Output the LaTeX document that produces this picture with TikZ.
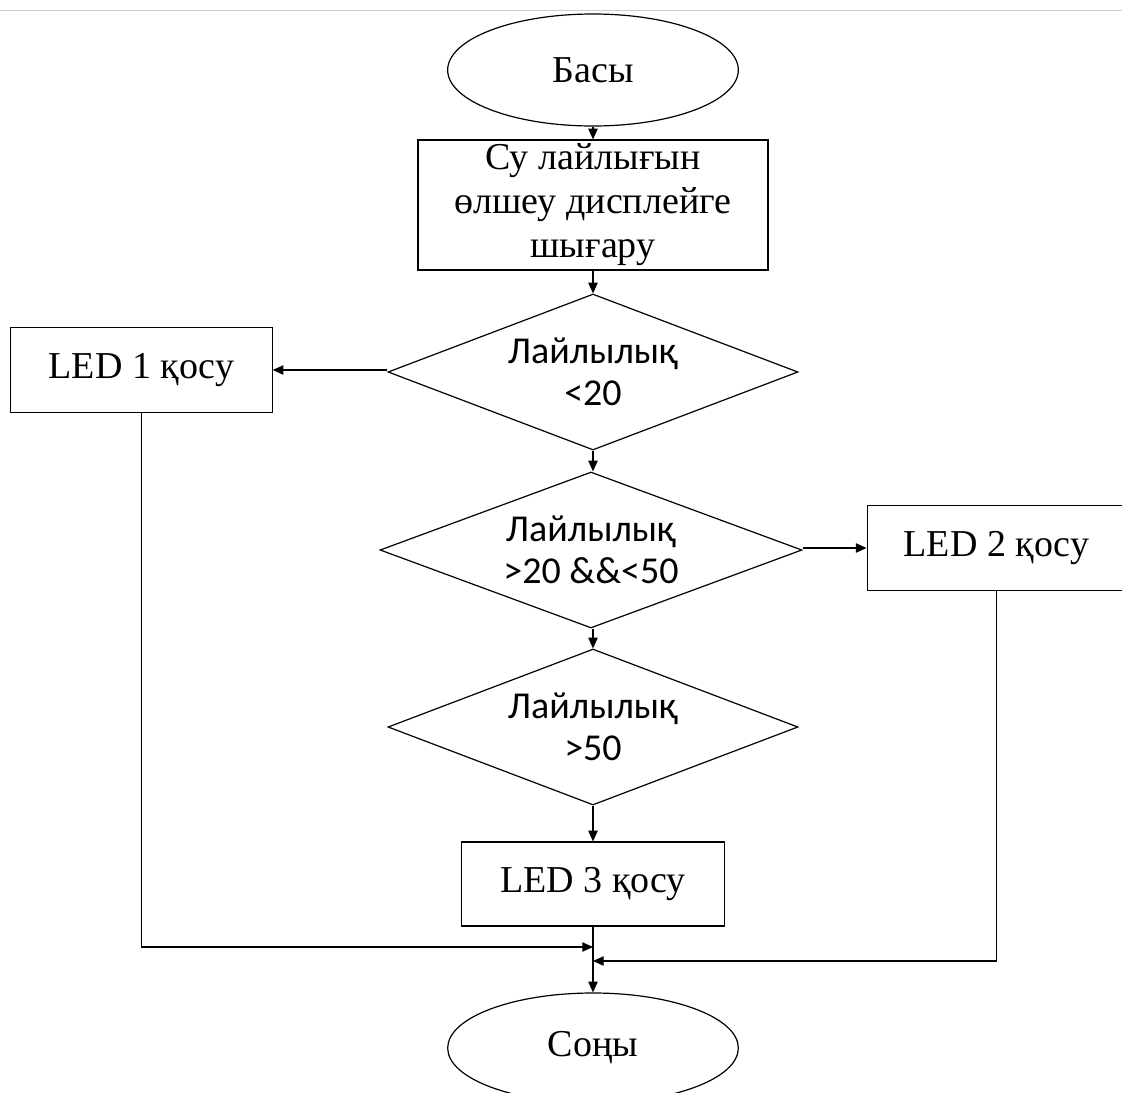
\documentclass[tikz,border=0pt]{standalone}
\usepackage{fontspec}
\setmainfont{Liberation Serif}
\newfontfamily\calfont{Carlito}
\usetikzlibrary{shapes.geometric, arrows.meta}

\begin{document}
\begin{tikzpicture}[x=0.75pt, y=-0.75pt, line width=0.9pt,
  txt/.style={font=\fontsize{28.5}{33}\selectfont},
  term/.style={draw, ellipse, inner sep=0pt, minimum width=218pt, minimum height=84pt, txt},
  proc/.style={draw, rectangle, inner sep=0pt, align=center, txt},
  cond/.style={draw, diamond, aspect=2.63, inner sep=0pt, align=center,
    minimum width=307.5pt, minimum height=117pt, font=\calfont\fontsize{28.5}{31.5}\selectfont},
  arr/.style={-{Triangle[length=8pt, width=7pt]}}]
\useasboundingbox (0,0) rectangle (1122,1093);
\draw[gray!40, line width=1.2pt] (0,10.5) -- (1122,10.5);

% Start and measuring
\node[term] (start) at (593,70) {Басы};
\node[proc, minimum width=262.5pt, minimum height=97.5pt] (meas) at (593,205)
  {Су лайлығын\\өлшеу дисплейге\\шығару};

% Decisions
\node[cond] (d1) at (593,372) {Лайлылық\\<20};
\node[cond, minimum width=316.5pt] (d2) at (591,550) {Лайлылық\\>20 \&\&<50};
\node[cond] (d3) at (593,727) {Лайлылық\\>50};

% LEDs
\node[proc, minimum width=196pt, minimum height=64pt] (led1) at (141.5,370) {LED 1 қосу};
\node[proc, minimum width=194pt, minimum height=64pt] (led2) at (996.5,548) {LED 2 қосу};
\node[proc, minimum width=197pt, minimum height=63pt] (led3) at (593,884) {LED 3 қосу};

% End
\node[term, minimum height=82.5pt] (stop) at (593,1048) {Соңы};
\coordinate (j1) at (593,947);
\coordinate (j2) at (593,961);

\draw[arr] (start) -- (meas);
\draw[arr] (meas) -- (d1);
\draw[arr] (d1.west |- led1) -- (led1);
\draw[arr] (d1) -- (d2.north -| d1);
\draw[arr] (d2.east |- led2) -- (led2);
\draw[arr] (d2.south -| d1) -- (d3);
\draw[arr] (d3) -- (led3);
\draw[arr] (led3) -- (stop);
\draw[arr] (led1.south) |- (j1);
\draw[arr] (led2.south) |- (j2);
\end{tikzpicture}
\end{document}
